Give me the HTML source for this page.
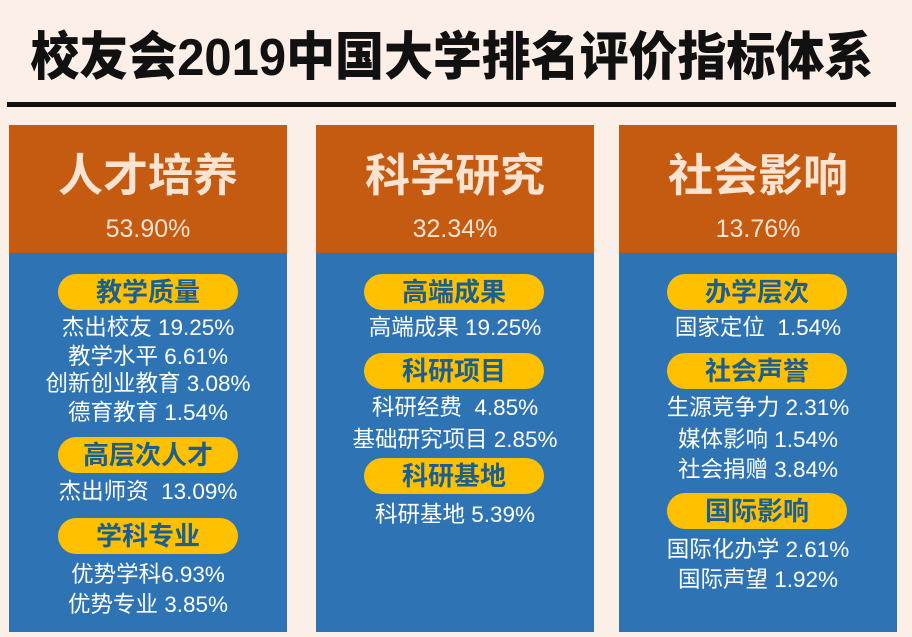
<!DOCTYPE html>
<html>
<head>
<meta charset="utf-8">
<style>
html,body{margin:0;padding:0;}
body{width:912px;height:637px;background:#fcefe8;position:relative;overflow:hidden;font-family:"Liberation Sans","Noto Sans CJK SC",sans-serif;}
.titlewrap{position:absolute;left:-4px;top:23px;width:912px;text-align:center;}
.title{display:inline-block;font-size:52px;line-height:70px;font-weight:900;color:#111;white-space:nowrap;transform:scaleX(0.941);transform-origin:center;}
.rule{position:absolute;left:7px;top:102px;width:889px;height:5px;background:#111;}
.panel{position:absolute;top:125px;width:278px;height:507px;background:#2e74b5;}
.head{position:absolute;left:0;top:0;width:100%;height:128px;background:#c55a11;}
.h1{position:absolute;left:0;width:100%;top:150px;text-align:center;font-size:45px;line-height:52px;font-weight:bold;color:#fbe3d2;white-space:nowrap;}
.pct{position:absolute;left:0;width:100%;top:213px;text-align:center;font-size:25px;line-height:32px;color:#fbe3d2;white-space:nowrap;}
.pill{position:absolute;width:180px;height:36px;border-radius:18px;background:#ffc000;text-align:center;font-size:26px;line-height:36px;font-weight:bold;color:#1c5f8f;white-space:nowrap;}
.t{position:absolute;width:278px;height:30px;line-height:30px;text-align:center;font-size:22.5px;color:#fff;white-space:pre;}
</style>
</head>
<body>
<div class="titlewrap"><span class="title">校友会2019中国大学排名评价指标体系</span></div>
<div class="rule"></div>

<div class="panel" style="left:9px;"><div class="head"></div></div>
<div class="panel" style="left:316px;"><div class="head"></div></div>
<div class="panel" style="left:619px;"><div class="head"></div></div>

<div class="h1" style="left:9px;width:278px;">人才培养</div>
<div class="h1" style="left:316px;width:278px;">科学研究</div>
<div class="h1" style="left:619px;width:278px;">社会影响</div>
<div class="pct" style="left:9px;width:278px;">53.90%</div>
<div class="pct" style="left:316px;width:278px;">32.34%</div>
<div class="pct" style="left:619px;width:278px;">13.76%</div>

<!-- Left panel -->
<div class="pill" style="left:58px;top:274px;">教学质量</div>
<div class="t" style="left:9px;top:313px;">杰出校友 19.25%</div>
<div class="t" style="left:9px;top:342px;">教学水平 6.61%</div>
<div class="t" style="left:9px;top:369px;">创新创业教育 3.08%</div>
<div class="t" style="left:9px;top:398px;">德育教育 1.54%</div>
<div class="pill" style="left:58px;top:437px;">高层次人才</div>
<div class="t" style="left:9px;top:477px;">杰出师资  13.09%</div>
<div class="pill" style="left:58px;top:518px;">学科专业</div>
<div class="t" style="left:9px;top:560px;">优势学科6.93%</div>
<div class="t" style="left:9px;top:590px;">优势专业 3.85%</div>

<!-- Middle panel -->
<div class="pill" style="left:364px;top:274px;">高端成果</div>
<div class="t" style="left:316px;top:313px;">高端成果 19.25%</div>
<div class="pill" style="left:364px;top:353px;">科研项目</div>
<div class="t" style="left:316px;top:393px;">科研经费  4.85%</div>
<div class="t" style="left:316px;top:425px;">基础研究项目 2.85%</div>
<div class="pill" style="left:364px;top:458px;">科研基地</div>
<div class="t" style="left:316px;top:500px;">科研基地 5.39%</div>

<!-- Right panel -->
<div class="pill" style="left:667px;top:274px;">办学层次</div>
<div class="t" style="left:619px;top:313px;">国家定位  1.54%</div>
<div class="pill" style="left:667px;top:353px;">社会声誉</div>
<div class="t" style="left:619px;top:393px;">生源竞争力 2.31%</div>
<div class="t" style="left:619px;top:425px;">媒体影响 1.54%</div>
<div class="t" style="left:619px;top:455px;">社会捐赠 3.84%</div>
<div class="pill" style="left:667px;top:493px;">国际影响</div>
<div class="t" style="left:619px;top:535px;">国际化办学 2.61%</div>
<div class="t" style="left:619px;top:565px;">国际声望 1.92%</div>
</body>
</html>
